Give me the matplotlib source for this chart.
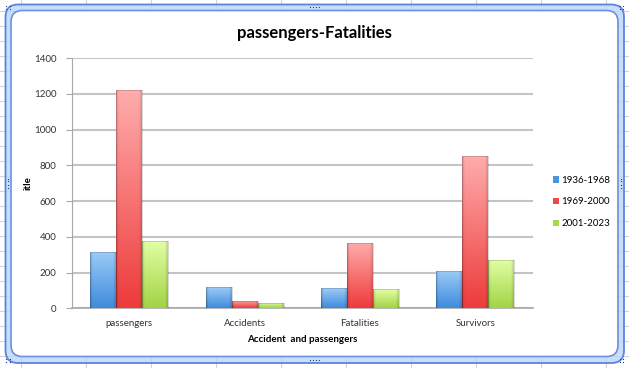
import numpy as np
import matplotlib
matplotlib.use("Agg")
import matplotlib.pyplot as plt
from matplotlib.patches import FancyBboxPatch, Patch
from matplotlib.lines import Line2D
from matplotlib.colors import to_rgb

# ---- data ----
categories = ["passengers", "Accidents", "Fatalities", "Survivors"]
series_names = ["1936-1968", "1969-2000", "2001-2023"]
v_1936_1968 = [316, 117, 111, 208]
v_1969_2000 = [1219, 41, 367, 851]
v_2001_2023 = [378, 28, 106, 269]
yticks = [0, 200, 400, 600, 800, 1000, 1200, 1400]

title = "passengers-Fatalities"
xlabel = "Accident  and passengers"
ylabel = "itle"

# colors (top, bottom) for gradient
grad = [("#9ccbf8", "#3f8cdc"), ("#ffacac", "#ee3b3b"), ("#e2ffa6", "#a2d444")]
legend_cols = ["#4a94e0", "#ef4a4a", "#a8d850"]

plt.rcParams['font.family'] = ['Lato', 'DejaVu Sans']

W, H = 629, 368
fig = plt.figure(figsize=(W / 100, H / 100), dpi=100)
fig.patch.set_facecolor("white")

def fx(px):
    return px / W

def fy(py):
    return 1 - py / H

# spreadsheet background grid
for gx in np.arange(21, W, 65):
    fig.add_artist(Line2D([fx(gx), fx(gx)], [0, 1], color="#d4d4d4", lw=0.8, zorder=0))
for gy in np.arange(10.7, H, 15):
    fig.add_artist(Line2D([0, 1], [fy(gy), fy(gy)], color="#d4d4d4", lw=0.8, zorder=0))

# chart frame (selected chart object)
outer = FancyBboxPatch((fx(5.5), fy(363)), fx(624) - fx(5.5), fy(4.5) - fy(363),
                       boxstyle="round,pad=0,rounding_size=0.02",
                       transform=fig.transFigure, facecolor=(0.72, 0.83, 0.97, 0.75),
                       edgecolor="#5a84df", lw=1.3, zorder=1, mutation_aspect=W / H)
fig.add_artist(outer)
inner = FancyBboxPatch((fx(11), fy(356.5)), fx(618) - fx(11), fy(10.5) - fy(356.5),
                       boxstyle="round,pad=0,rounding_size=0.018",
                       transform=fig.transFigure, facecolor="white",
                       edgecolor="#6d8fe0", lw=1.2, zorder=2, mutation_aspect=W / H)
fig.add_artist(inner)

# handles
handle_pos = [(8, 7), (621, 7), (8, 360), (621, 360), (314, 7), (314, 360), (8, 183), (621, 183)]
for hx, hy in handle_pos:
    if hx == 314:
        xs = [hx - 4.5, hx - 1.5, hx + 1.5, hx + 4.5]
        ys = [hy] * 4
    elif hy == 183:
        xs = [hx] * 4
        ys = [hy - 4.5, hy - 1.5, hy + 1.5, hy + 4.5]
    else:
        xs = [hx - 1.5, hx + 1.5, hx - 1.5, hx + 1.5]
        ys = [hy - 1.5, hy - 1.5, hy + 1.5, hy + 1.5]
    fig.add_artist(Line2D([fx(a) for a in xs], [fy(b) for b in ys], ls="none",
                          marker="s", ms=0.8, mew=0, color="#1f3f8f", zorder=3))

ax = fig.add_axes([fx(71.6), fy(308.3), fx(533) - fx(71.6), fy(58) - fy(308.3)], zorder=4)
ax.set_facecolor("none")

x = np.arange(len(categories))
bw = 0.225
all_vals = [v_1936_1968, v_1969_2000, v_2001_2023]
bar_containers = []
for i, vals in enumerate(all_vals):
    bc = ax.bar(x + (i - 1) * bw, vals, bw, color="none", edgecolor="none", zorder=3)
    bar_containers.append(bc)

# gradient fill for each bar
ny, nx = 64, 32
ty = np.linspace(0, 1, ny)[:, None]
tx = np.linspace(-1, 1, nx)[None, :]
edge_dark = 1 - 0.15 * np.clip(np.abs(tx) - 0.8, 0, None) / 0.2
for i, bc in enumerate(bar_containers):
    top = np.array(to_rgb(grad[i][0]))
    bot = np.array(to_rgb(grad[i][1]))
    img = bot[None, None, :] + (top - bot)[None, None, :] * ty[..., None]
    img = img * edge_dark[..., None]
    img = np.clip(img, 0, 1)
    for p in bc.patches:
        x0, y0 = p.get_x(), p.get_y()
        w, h = p.get_width(), p.get_height()
        im = ax.imshow(img, extent=(x0, x0 + w, y0, y0 + h), origin="lower",
                       aspect="auto", zorder=3, interpolation="bilinear")
        im.set_clip_path(p)
        p.set_edgecolor((0, 0, 0, 0.18))
        p.set_linewidth(0.6)
        p.set_zorder(4)

ax.set_xlim(-0.5, len(categories) - 0.5)
ax.set_ylim(0, 1400)
ax.set_yticks(yticks)
ax.set_yticklabels([str(t) for t in yticks], fontsize=7, color="#333333")
ax.set_xticks(x)
ax.set_xticklabels(categories, fontsize=7, color="#333333")
ax.grid(axis="y", color="#c4c4c4", lw=1.5, zorder=0)
ax.set_axisbelow(True)
for s in ["top", "right"]:
    ax.spines[s].set_visible(False)
ax.spines["left"].set_color("#a8a8a8")
ax.spines["bottom"].set_color("#a8a8a8")
ax.spines["bottom"].set_linewidth(1.2)
ax.tick_params(axis="y", length=4, color="#a8a8a8", pad=7)
ax.tick_params(axis="x", length=0, pad=8)

ax.set_xlabel(xlabel, fontsize=7, fontweight="bold", labelpad=5)
ax.set_ylabel(ylabel, fontsize=7, fontweight="bold")
ax.yaxis.set_label_coords((33 - 71.6) / (533 - 71.6), 0.5)

fig.text(fx(314), fy(33), title, ha="center", va="center", fontsize=12,
         fontweight="bold", zorder=5)

handles = [Patch(facecolor=c, edgecolor="none") for c in legend_cols]
fig.legend(handles, series_names, loc="center left",
           bbox_to_anchor=(fx(544), fy(202)), frameon=False, fontsize=7,
           handlelength=0.6, handleheight=0.6, handletextpad=0.3, labelspacing=1.3)

fig.savefig("out.png", dpi=100)
